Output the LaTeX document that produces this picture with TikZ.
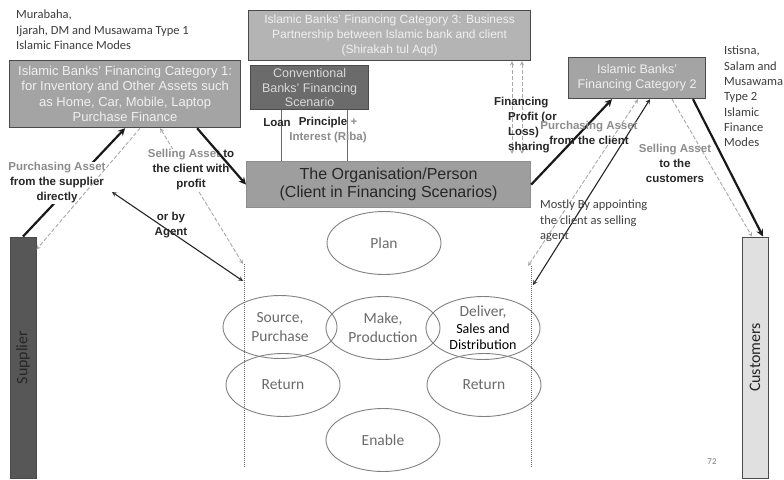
\documentclass[tikz,border=0pt]{standalone}
\usepackage{fontspec}
\setmainfont{Liberation Sans}
\newfontfamily\calibri{Carlito}
\usetikzlibrary{shapes.geometric}

\definecolor{edgegray}{HTML}{4A4A4A}
\definecolor{catgray}{HTML}{A4A4A4}
\definecolor{partgray}{HTML}{B4B4B4}
\definecolor{convgray}{HTML}{6B6B6B}
\definecolor{clientgray}{HTML}{9E9E9E}
\definecolor{labelgray}{HTML}{8C8C8C}
\definecolor{darktext}{HTML}{262626}
\definecolor{dashgray}{HTML}{A8A8A8}
\definecolor{stagegray}{HTML}{6A6A6A}

\newcommand{\gtxt}[1]{\textcolor{labelgray}{#1}}
\newcommand{\sdtxt}[1]{\textcolor{black}{\fontsize{14}{16}\selectfont #1}}

\tikzset{
  catbox/.style={draw=edgegray, line width=1.2pt, fill=catgray, text=white!94!black,
    align=center, anchor=north west, inner sep=0pt, font=\fontsize{12.5}{15}\selectfont},
  sidebox/.style={draw=edgegray, line width=1pt, rotate=90, inner sep=0pt,
    minimum width=241pt, minimum height=26pt, font=\calibri\fontsize{16}{18}\selectfont},
  stage/.style={ellipse, draw=gray, line width=0.9pt, minimum width=114pt, minimum height=63pt,
    inner sep=0pt, align=center, text=stagegray, font=\calibri\fontsize{15.5}{19}\selectfont},
  lbl/.style={align=center, inner sep=1pt, text=darktext, font=\bfseries\fontsize{11.5}{15}\selectfont},
  note/.style={align=left, anchor=north west, inner sep=0pt, text=darktext!90,
    font=\calibri\fontsize{12.5}{15.3}\selectfont},
  thickarrow/.style={->, line width=2.2pt, draw=black!90},
  thinarrow/.style={<->, line width=1.1pt, draw=black!85},
  dasharrow/.style={->, line width=0.9pt, draw=dashgray, dash pattern=on 4pt off 2pt},
  dotline/.style={draw=gray!80!black, line width=0.6pt, dash pattern=on 1pt off 1pt},
  linkline/.style={draw=convgray, line width=0.9pt}
}

\begin{document}
\begin{tikzpicture}[x=1pt,y=-1pt,>=stealth]
\useasboundingbox (0,0) rectangle (784,479);

% financing boxes
\node[catbox, minimum width=231pt, minimum height=67pt, font=\fontsize{13}{15.5}\selectfont] (cat1) at (9,60)
  {Islamic Banks’ Financing Category 1:\\for Inventory and Other Assets such\\as Home, Car, Mobile, Laptop\\Purchase Finance};
\node[catbox, fill=partgray, minimum width=282pt, minimum height=50pt, font=\fontsize{12}{15}\selectfont] (cat3) at (248,10)
  {Islamic Banks' Financing Category 3: Business\\Partnership between Islamic bank and client\\(Shirakah tul Aqd)};
\node[catbox, fill=convgray, text=white!85!black, minimum width=118pt, minimum height=44pt,
  font=\fontsize{12.5}{14.5}\selectfont] (conv) at (250,65)
  {Conventional\\Banks' Financing\\Scenario};
\node[catbox, draw=clientgray!90!black, fill=clientgray, text=darktext, minimum width=284pt, minimum height=46pt,
  font=\fontsize{16}{18}\selectfont] (client) at (246,161)
  {The Organisation/Person\\(Client in Financing Scenarios)};
\node[catbox, minimum width=137pt, minimum height=41pt] (cat2) at (568,57)
  {Islamic Banks’\\Financing Category 2};

% supplier and customers
\node[sidebox, fill=black!66, text=black!85] (supplier) at (23,357.5) {Supplier};
\node[sidebox, fill=black!12, text=darktext] (customers) at (755,357.5) {Customers};

% supply chain stages
\node[stage] (plan) at (384,243) {Plan};
\node[stage] (source) at (280,327) {Source,\\Purchase};
\node[stage] (make) at (383,328) {Make,\\Production};
\node[stage] (deliver) at (483,328) {Deliver,\\[-2pt]\sdtxt{Sales and}\\[-3pt]\sdtxt{Distribution}};
\node[stage] (returnL) at (283,385) {Return};
\node[stage] (returnR) at (484,385) {Return};
\node[stage] (enable) at (383,440) {Enable};

% dotted borders of the organisation
\coordinate (lineL) at (244,264);
\coordinate (lineLend) at (244,468);
\coordinate (lineR) at (531,266);
\coordinate (lineRend) at (531,468);
\draw[dotline] (lineL) -- (lineLend);
\draw[dotline] (lineR) -- (lineRend);

% left side flows
\coordinate (agentL) at (112,192);
\coordinate (agentR) at (243,281);
\draw[thickarrow] (supplier.east) -- (cat1.south);
\draw[dasharrow, <->] ([xshift=35pt]cat1.south) -- ([xshift=-1pt]lineL);
\node[lbl, fill=white] (buySupplier) at (57,183) {\gtxt{Purchasing Asset}\\from the supplier\\directly};
\node[lbl, fill=white] (sellClient) at (191,170) {\gtxt{Selling Asset} to\\the client with\\profit};
\draw[dasharrow] ([xshift=15pt]cat1.south) -- ([yshift=-13pt]supplier.south east);
\draw[thinarrow] (agentL) -- (agentR);
\draw[thickarrow] ([xshift=72pt]cat1.south) -- (client.west);
\node[lbl] (byAgent) at (171,225) {or by\\Agent};

% conventional loan
\draw[linkline] ([xshift=31pt]conv.south west) -- ([xshift=31pt]conv.south west |- client.north);
\draw[linkline] ([xshift=97pt]conv.south west) -- ([xshift=97pt]conv.south west |- client.north);
\node[lbl] (loan) at (277,123) {Loan};
\node[lbl] (riba) at (328,130) {Principle \gtxt{+}\\\gtxt{Interest (Riba)}};

% partnership
\draw[dasharrow, <->, shorten >=7pt] ([xshift=264pt]cat3.south west) -- ([xshift=264pt]cat3.south west |- client.north);
\draw[dasharrow, <->, shorten >=7pt] ([xshift=274pt]cat3.south west) -- ([xshift=274pt]cat3.south west |- client.north);
\node[lbl, align=left, anchor=north west] (sharing) at (507,96) {\hspace*{-14pt}Financing\\Profit (or\\Loss)\\sharing};

% right side flows
\coordinate (agentR2) at (533,285);
\draw[thickarrow] (client.east) -- ([xshift=44pt]cat2.south west);
\draw[dasharrow, <->] ([xshift=-3pt]lineR) -- ([xshift=70pt]cat2.south west);
\draw[thinarrow] ([xshift=82pt]cat2.south west) -- (agentR2);
\draw[dasharrow] ([xshift=104pt]cat2.south west) -- ([xshift=-3pt]customers.east);
\draw[thickarrow] ([xshift=125pt]cat2.south west) -- ([xshift=8pt]customers.east);
\node[lbl] (buyClient) at (589,133) {\gtxt{Purchasing Asset}\\from the client};
\node[lbl] (sellCust) at (675,163) {\gtxt{Selling Asset}\\to the\\customers};

% finance modes notes
\node[note] (modes1) at (16,10) {Murabaha,\\Ijarah, DM and Musawama Type 1\\Islamic Finance Modes};
\node[note] (modes2) at (724,46) {Istisna,\\Salam and\\Musawama\\Type 2\\Islamic\\Finance\\Modes};
\node[note, text=black!75] (sellAgent) at (540,200) {Mostly By appointing\\the client as selling\\agent};
\node[text=gray, font=\calibri\fontsize{9}{10}\selectfont] (page) at (712,462) {72};
\end{tikzpicture}
\end{document}
